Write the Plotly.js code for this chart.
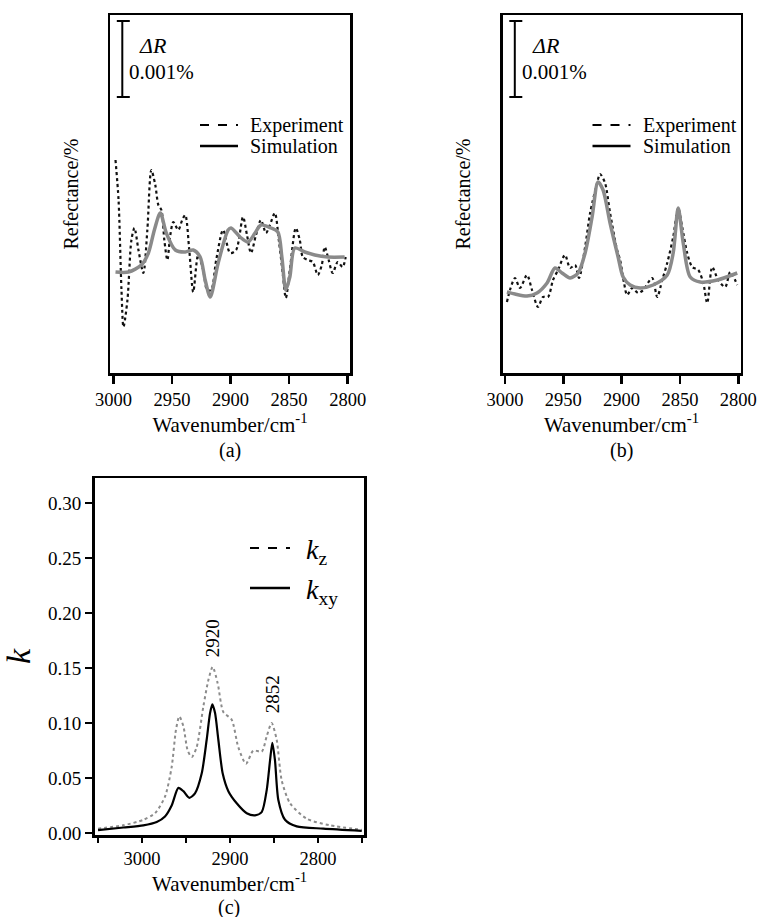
<!DOCTYPE html>
<html>
<head>
<meta charset="utf-8">
<script src="https://cdn.plot.ly/plotly-3.0.1.min.js"></script>
<style>html,body{margin:0;padding:0;background:#fff;}#chart{width:759px;height:917px;}</style>
</head>
<body>
<div id="chart"></div>
<script>
// ---------- Data ----------
// Panel (a): reflectance, arbitrary offset units
var expA_wn = [2998.3, 2995.7, 2993.2, 2991.5, 2988.1, 2984.7, 2982.1, 2978.7, 2974.5, 2971.1, 2967.7, 2964.3, 2961.7, 2959.1, 2956.6, 2954.0, 2951.5, 2948.9, 2944.7, 2941.3, 2938.7, 2935.3, 2931.9, 2927.7, 2923.4, 2920.0, 2916.6, 2912.3, 2906.4, 2900.4, 2895.3, 2889.4, 2886.0, 2882.6, 2878.3, 2874.1, 2869.8, 2866.4, 2862.2, 2858.8, 2855.3, 2852.8, 2849.4, 2844.3, 2840.9, 2838.3, 2834.1, 2829.8, 2825.5, 2822.1, 2819.6, 2816.2, 2812.8, 2808.5, 2804.3, 2801.7];
var expA_r = [187, 147, 57, 20, 47, 107, 119, 97, 74, 117, 177, 162, 142, 137, 107, 87, 112, 125, 117, 127, 132, 97, 55, 92, 77, 57, 57, 87, 117, 94, 97, 130, 112, 94, 112, 127, 114, 122, 134, 107, 72, 49, 77, 119, 107, 90, 87, 85, 72, 82, 100, 87, 74, 85, 80, 90];
var simA_wn = [2998.3, 2987.2, 2976.2, 2970.2, 2965.1, 2960.0, 2954.9, 2947.2, 2938.7, 2931.9, 2926.0, 2921.7, 2917.4, 2910.6, 2902.1, 2899.6, 2891.9, 2885.1, 2879.1, 2874.0, 2865.5, 2859.6, 2856.2, 2852.8, 2849.4, 2845.1, 2836.6, 2828.1, 2817.0, 2802.6];
var simA_r = [75, 75, 82, 94, 117, 134, 114, 97, 95, 97, 90, 67, 50, 84, 117, 119, 110, 105, 114, 122, 119, 115, 90, 57, 70, 99, 95, 92, 90, 90];

// Panel (b)
var expB_wn = [2998.3, 2995.7, 2991.4, 2987.1, 2981.1, 2976.8, 2971.7, 2967.4, 2963.1, 2958.8, 2954.5, 2948.5, 2944.2, 2939.9, 2936.5, 2931.3, 2927.0, 2921.0, 2918.5, 2914.2, 2909.9, 2903.9, 2901.3, 2897.9, 2895.3, 2891.0, 2885.8, 2881.5, 2873.8, 2869.5, 2865.2, 2860.9, 2855.8, 2851.5, 2848.1, 2843.8, 2839.5, 2834.3, 2830.0, 2826.6, 2822.3, 2817.2, 2811.2, 2806.9, 2800.9];
var expB_r = [45, 57, 69, 59, 72, 57, 40, 50, 50, 67, 77, 92, 79, 82, 69, 100, 134, 164, 173, 164, 134, 97, 87, 64, 52, 59, 54, 57, 69, 50, 67, 84, 110, 139, 120, 94, 80, 77, 64, 44, 80, 67, 60, 75, 62];
var simB_wn = [2998.3, 2991.4, 2981.1, 2972.5, 2963.9, 2957.1, 2951.1, 2944.2, 2937.3, 2931.3, 2925.3, 2920.2, 2915.9, 2909.9, 2903.0, 2898.7, 2892.7, 2884.1, 2873.0, 2860.9, 2855.8, 2851.5, 2847.2, 2841.2, 2832.6, 2818.0, 2800.9];
var simB_r = [55, 53, 51, 54, 64, 79, 74, 69, 74, 94, 130, 165, 157, 124, 90, 70, 62, 59, 62, 72, 94, 139, 104, 70, 65, 67, 74];

// Panel (c): extinction coefficient k
var kxy_wn = [3050, 3021.2, 2998.5, 2983.3, 2973.9, 2966.3, 2958.7, 2953.0, 2946.2, 2939.8, 2932.2, 2926.5, 2922.7, 2920.1, 2917.0, 2913.3, 2908.3, 2901.9, 2892.4, 2881.0, 2871.6, 2864.0, 2858.3, 2854.5, 2851.9, 2848.9, 2845.1, 2837.5, 2824.2, 2794.0, 2750.3];
var kxy = [0.0027, 0.005, 0.007, 0.010, 0.015, 0.025, 0.041, 0.038, 0.032, 0.036, 0.054, 0.085, 0.109, 0.117, 0.109, 0.085, 0.054, 0.038, 0.027, 0.018, 0.016, 0.019, 0.039, 0.066, 0.082, 0.066, 0.030, 0.012, 0.006, 0.004, 0.002];
var kz_wn = [3050, 3021.2, 2998.5, 2985.2, 2973.9, 2966.3, 2961.4, 2957.6, 2953.0, 2948.1, 2943.5, 2937.9, 2930.3, 2924.6, 2919.7, 2914.0, 2907.6, 2898.1, 2890.6, 2881.8, 2873.5, 2864.0, 2858.3, 2852.7, 2847.0, 2841.3, 2831.8, 2812.9, 2786.4, 2750.3];
var kz = [0.004, 0.007, 0.012, 0.018, 0.033, 0.060, 0.094, 0.106, 0.097, 0.075, 0.069, 0.078, 0.115, 0.139, 0.151, 0.136, 0.110, 0.103, 0.078, 0.063, 0.075, 0.074, 0.088, 0.100, 0.085, 0.048, 0.027, 0.013, 0.007, 0.003];

// Tick labels
var abTickVals = [3000, 2950, 2900, 2850, 2800];
var cTickVals = [3050, 3000, 2950, 2900, 2850, 2800, 2750];
var cTickText = ['', '3000', '', '2900', '', '2800', ''];
var cYTickVals = [0, 0.05, 0.10, 0.15, 0.20, 0.25, 0.30];
var peakLabels = ['2920', '2852'];
var peakPos = [2920, 2852];
var peakK = [0.151, 0.100];

// ---------- Styling ----------
var FONT = 'Liberation Serif';
var W = 759, H = 917;
function px(x){ return x / W; }
function py(y){ return 1 - y / H; }

var expLine = {color: '#111', width: 2.2, dash: 'dot', shape: 'spline', smoothing: 0.8};
var simLine = {color: '#8a8a8a', width: 3.5, shape: 'spline', smoothing: 0.8};

var traces = [
  {x: expA_wn, y: expA_r, mode: 'lines', line: expLine, xaxis: 'x', yaxis: 'y', name: 'Experiment', showlegend: false},
  {x: simA_wn, y: simA_r, mode: 'lines', line: simLine, xaxis: 'x', yaxis: 'y', name: 'Simulation', showlegend: false},
  {x: expB_wn, y: expB_r, mode: 'lines', line: expLine, xaxis: 'x2', yaxis: 'y2', name: 'Experiment', showlegend: false},
  {x: simB_wn, y: simB_r, mode: 'lines', line: simLine, xaxis: 'x2', yaxis: 'y2', name: 'Simulation', showlegend: false},
  {x: kz_wn, y: kz, mode: 'lines', line: {color: '#8c8c8c', width: 2, dash: 'dot', shape: 'spline', smoothing: 0.7}, xaxis: 'x3', yaxis: 'y3', name: 'kz', showlegend: false},
  {x: kxy_wn, y: kxy, mode: 'lines', line: {color: '#000', width: 2.2, shape: 'spline', smoothing: 0.7}, xaxis: 'x3', yaxis: 'y3', name: 'kxy', showlegend: false}
];

function xAx(domain, range, anchor, extra){
  var a = {domain: domain, range: range, anchor: anchor, showgrid: false, zeroline: false,
    showline: true, mirror: true, linecolor: '#000', linewidth: 2.5,
    ticks: 'outside', ticklen: 8, tickwidth: 2.5, tickcolor: '#000',
    tickfont: {family: FONT, size: 18.5, color: '#000'}, ticklabelstandoff: 0,
    title: {text: 'Wavenumber/cm<sup>-1</sup>', font: {family: FONT, size: 21, color: '#000'}, standoff: 0}};
  for (var k in extra) a[k] = extra[k];
  return a;
}
function yAx(domain, range, anchor, extra){
  var a = {domain: domain, range: range, anchor: anchor, showgrid: false, zeroline: false,
    showline: true, mirror: true, linecolor: '#000', linewidth: 2.5,
    ticks: '', showticklabels: false,
    title: {text: 'Refectance/%', font: {family: FONT, size: 20, color: '#000'}, standoff: 24}};
  for (var k in extra) a[k] = extra[k];
  return a;
}

var domYab = [py(373), py(15)];
var layout = {
  width: W, height: H, margin: {l: 0, r: 0, t: 0, b: 0},
  paper_bgcolor: '#fff', plot_bgcolor: '#fff', showlegend: false,
  font: {family: FONT, color: '#000'},
  xaxis: xAx([px(110), px(350)], [3003, 2798], 'y', {tickvals: abTickVals}),
  yaxis: yAx(domYab, [-26, 332], 'x', {}),
  xaxis2: xAx([px(502.5), px(740.5)], [3002.1, 2798.1], 'y2', {tickvals: abTickVals}),
  yaxis2: yAx(domYab, [-26, 332], 'x2', {}),
  xaxis3: xAx([px(94.5), px(364.3)], [3054, 2747.4], 'y3', {tickvals: cTickVals, ticktext: cTickText, ticklen: 5, title: {text: ''}}),
  yaxis3: yAx([py(835), py(478)], [-0.0018, 0.3227], 'x3', {
    ticks: 'outside', ticklen: 7, tickwidth: 2.5, tickcolor: '#000', showticklabels: true,
    tickvals: cYTickVals, tickformat: '.2f', ticklabelstandoff: 0,
    tickfont: {family: FONT, size: 19, color: '#000'},
    title: {text: '<i>k</i>', font: {family: FONT, size: 34, color: '#000'}, standoff: 8}}),
  shapes: [],
  annotations: []
};

// scale bars and legends for panels (a) and (b)
var offsets = [0, 392.5];
var panelNames = ['(a)', '(b)'];
var panelCx = [230, 621.5];
offsets.forEach(function(dx, i){
  var bx = 122.3 + dx;
  layout.shapes.push({type: 'line', xref: 'paper', yref: 'paper', x0: px(bx), x1: px(bx), y0: py(21), y1: py(97), line: {color: '#000', width: 2}});
  layout.shapes.push({type: 'line', xref: 'paper', yref: 'paper', x0: px(bx - 5.5), x1: px(bx + 7.5), y0: py(21), y1: py(21), line: {color: '#000', width: 2}});
  layout.shapes.push({type: 'line', xref: 'paper', yref: 'paper', x0: px(bx - 5.5), x1: px(bx + 7.5), y0: py(97), y1: py(97), line: {color: '#000', width: 2}});
  layout.annotations.push({xref: 'paper', yref: 'paper', x: px(137 + dx), y: py(45), xanchor: 'left', yanchor: 'middle', showarrow: false, text: '<i>ΔR</i>', font: {family: FONT, size: 22, color: '#000'}});
  layout.annotations.push({xref: 'paper', yref: 'paper', x: px(127 + dx), y: py(72), xanchor: 'left', yanchor: 'middle', showarrow: false, text: '0.001%', font: {family: FONT, size: 21, color: '#000'}});
  // legend
  layout.shapes.push({type: 'line', xref: 'paper', yref: 'paper', x0: px(200 + dx), x1: px(238 + dx), y0: py(125), y1: py(125), line: {color: '#000', width: 2, dash: 'dash'}});
  layout.shapes.push({type: 'line', xref: 'paper', yref: 'paper', x0: px(200 + dx), x1: px(238 + dx), y0: py(146), y1: py(146), line: {color: '#000', width: 2.5}});
  layout.annotations.push({xref: 'paper', yref: 'paper', x: px(248 + dx), y: py(125), xanchor: 'left', yanchor: 'middle', showarrow: false, text: 'Experiment', font: {family: FONT, size: 20, color: '#000'}});
  layout.annotations.push({xref: 'paper', yref: 'paper', x: px(248 + dx), y: py(146), xanchor: 'left', yanchor: 'middle', showarrow: false, text: 'Simulation', font: {family: FONT, size: 20, color: '#000'}});
  layout.annotations.push({xref: 'paper', yref: 'paper', x: px(panelCx[i]), y: py(450), xanchor: 'center', yanchor: 'middle', showarrow: false, text: panelNames[i], font: {family: FONT, size: 20, color: '#000'}});
});

// panel (c) x title, legend and label
layout.annotations.push({xref: 'paper', yref: 'paper', x: px(229.4), y: py(882), xanchor: 'center', yanchor: 'middle', showarrow: false, text: 'Wavenumber/cm<sup>-1</sup>', font: {family: FONT, size: 21, color: '#000'}});
layout.shapes.push({type: 'line', xref: 'paper', yref: 'paper', x0: px(250), x1: px(290), y0: py(548), y1: py(548), line: {color: '#000', width: 2, dash: 'dash'}});
layout.shapes.push({type: 'line', xref: 'paper', yref: 'paper', x0: px(250), x1: px(290), y0: py(588), y1: py(588), line: {color: '#000', width: 2.5}});
layout.annotations.push({xref: 'paper', yref: 'paper', x: px(304), y: py(551), xanchor: 'left', yanchor: 'middle', showarrow: false, text: '<i>k</i><sub>z</sub>', font: {family: FONT, size: 28, color: '#000'}});
layout.annotations.push({xref: 'paper', yref: 'paper', x: px(304), y: py(591), xanchor: 'left', yanchor: 'middle', showarrow: false, text: '<i>k</i><sub>xy</sub>', font: {family: FONT, size: 28, color: '#000'}});
layout.annotations.push({xref: 'paper', yref: 'paper', x: px(229.4), y: py(907), xanchor: 'center', yanchor: 'middle', showarrow: false, text: '(c)', font: {family: FONT, size: 20, color: '#000'}});

// peak labels in (c), anchored to data
peakLabels.forEach(function(t, i){
  layout.annotations.push({xref: 'x3', yref: 'y3', x: peakPos[i], y: peakK[i], yshift: 8, xanchor: 'center', yanchor: 'bottom', showarrow: false, textangle: -90, text: t, font: {family: FONT, size: 19, color: '#000'}});
});

Plotly.newPlot('chart', traces, layout, {staticPlot: true, displayModeBar: false});
</script>
</body>
</html>
